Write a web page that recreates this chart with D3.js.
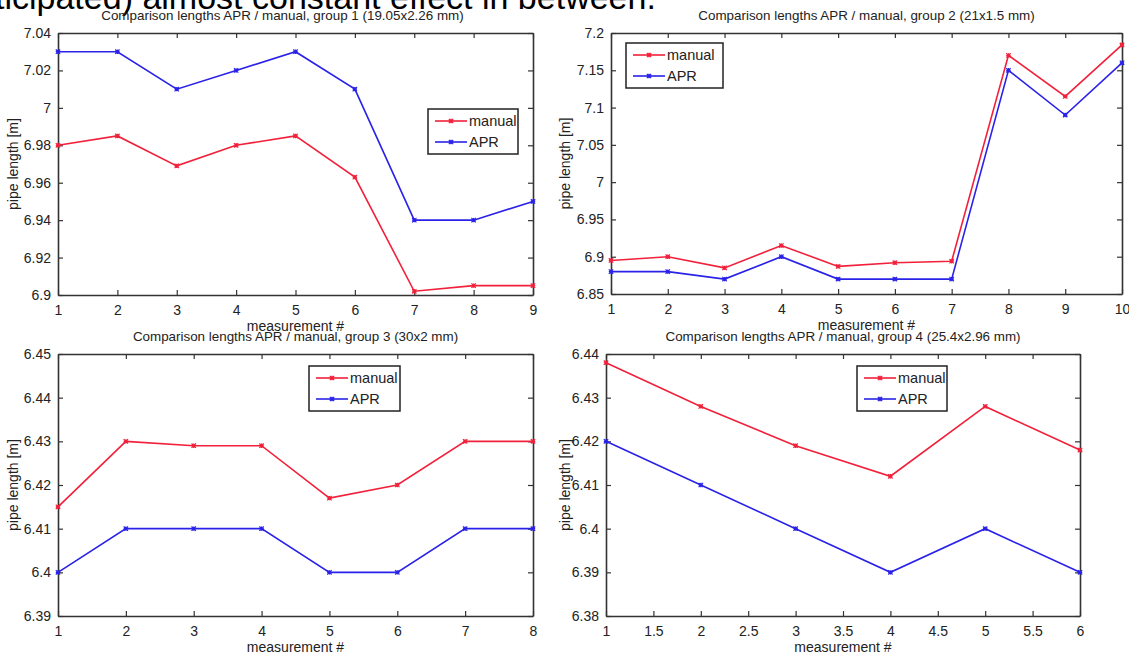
<!DOCTYPE html>
<html>
<head>
<meta charset="UTF-8">
<script src="https://d3js.org/d3.v7.min.js"></script>
<style>
  body { margin: 0; background: #fff; }
  svg text { font-family: "Liberation Sans", Arial, sans-serif; fill: #222; }
</style>
</head>
<body>
<div id="chart"></div>
<script>
// data
var seriesNames = ["manual", "APR"];

var titles = [
  "Comparison lengths APR / manual, group 1 (19.05x2.26 mm)",
  "Comparison lengths APR / manual, group 2 (21x1.5 mm)",
  "Comparison lengths APR / manual, group 3 (30x2 mm)",
  "Comparison lengths APR / manual, group 4 (25.4x2.96 mm)"
];

var manual1 = [6.98, 6.985, 6.969, 6.98, 6.985, 6.963, 6.902, 6.905, 6.905];
var apr1    = [7.03, 7.03, 7.01, 7.02, 7.03, 7.01, 6.94, 6.94, 6.95];

var manual2 = [6.895, 6.9, 6.885, 6.915, 6.887, 6.892, 6.894, 7.17, 7.115, 7.184];
var apr2    = [6.88, 6.88, 6.87, 6.9, 6.87, 6.87, 6.87, 7.15, 7.09, 7.16];

var manual3 = [6.415, 6.43, 6.429, 6.429, 6.417, 6.42, 6.43, 6.43];
var apr3    = [6.40, 6.41, 6.41, 6.41, 6.40, 6.40, 6.41, 6.41];

var manual4 = [6.438, 6.428, 6.419, 6.412, 6.428, 6.418];
var apr4    = [6.42, 6.41, 6.40, 6.39, 6.40, 6.39];

var yTicks1 = [6.9, 6.92, 6.94, 6.96, 6.98, 7, 7.02, 7.04];
var yTicks2 = [6.85, 6.9, 6.95, 7, 7.05, 7.1, 7.15, 7.2];
var yTicks3 = [6.39, 6.4, 6.41, 6.42, 6.43, 6.44, 6.45];
var yTicks4 = [6.38, 6.39, 6.4, 6.41, 6.42, 6.43, 6.44];

var xTicks1 = [1, 2, 3, 4, 5, 6, 7, 8, 9];
var xTicks2 = [1, 2, 3, 4, 5, 6, 7, 8, 9, 10];
var xTicks3 = [1, 2, 3, 4, 5, 6, 7, 8];
var xTicks4 = [1, 1.5, 2, 2.5, 3, 3.5, 4, 4.5, 5, 5.5, 6];

var colors = ["#f2203a", "#2a22e8"];

var W = 1129, H = 659;
var svg = d3.select("#chart").append("svg")
  .attr("width", W).attr("height", H);

// clipped sentence from the surrounding document
svg.append("text")
  .attr("x", -5).attr("y", 9)
  .style("font-size", "34px")
  .style("fill", "#000")
  .text("ticipated) almost constant effect in between.");

var panels = [
  {man: manual1, apr: apr1, yt: yTicks1, xt: xTicks1, x0: 58, x1: 533, y0: 33, y1: 295, tdx: -13,
   leg: {x: 428, y: 109, w: 90, h: 45}},
  {man: manual2, apr: apr2, yt: yTicks2, xt: xTicks2, x0: 611, x1: 1122, y0: 33, y1: 294, tdx: 0,
   leg: {x: 626, y: 43, w: 97, h: 45}},
  {man: manual3, apr: apr3, yt: yTicks3, xt: xTicks3, x0: 58, x1: 533, y0: 354, y1: 616, tdx: 0,
   leg: {x: 309, y: 366, w: 91, h: 45}},
  {man: manual4, apr: apr4, yt: yTicks4, xt: xTicks4, x0: 606, x1: 1080, y0: 354, y1: 616, tdx: 0,
   leg: {x: 857, y: 366, w: 90, h: 45}}
];

// small star marker like matlab '*'
function star(g, cx, cy, col) {
  var s = 2.2;
  g.append("path")
    .attr("d", "M" + (cx - s) + "," + cy + "H" + (cx + s) +
               "M" + cx + "," + (cy - s) + "V" + (cy + s) +
               "M" + (cx - s) + "," + (cy - s) + "L" + (cx + s) + "," + (cy + s) +
               "M" + (cx - s) + "," + (cy + s) + "L" + (cx + s) + "," + (cy - s))
    .attr("stroke", col).attr("stroke-width", 1.2).attr("fill", "none");
}

panels.forEach(function(p, i) {
  var g = svg.append("g");
  var xd = d3.extent(p.xt), yd = d3.extent(p.yt);
  var x = d3.scaleLinear().domain(xd).range([p.x0, p.x1]);
  var y = d3.scaleLinear().domain(yd).range([p.y1, p.y0]);

  var fmt = function(d) { return String(+d.toFixed(3)); };

  // axes, ticks pointing inwards on all four sides
  var bottom = g.append("g").attr("transform", "translate(0," + p.y1 + ")")
    .call(d3.axisBottom(x).tickValues(p.xt).tickSizeInner(-5).tickSizeOuter(0).tickPadding(10).tickFormat(fmt));
  var top = g.append("g").attr("transform", "translate(0," + p.y0 + ")")
    .call(d3.axisTop(x).tickValues(p.xt).tickSizeInner(-5).tickSizeOuter(0).tickFormat(""));
  var left = g.append("g").attr("transform", "translate(" + p.x0 + ",0)")
    .call(d3.axisLeft(y).tickValues(p.yt).tickSizeInner(-5).tickSizeOuter(0).tickPadding(7).tickFormat(fmt));
  var right = g.append("g").attr("transform", "translate(" + p.x1 + ",0)")
    .call(d3.axisRight(y).tickValues(p.yt).tickSizeInner(-5).tickSizeOuter(0).tickFormat(""));

  [bottom, top, left, right].forEach(function(a) {
    a.selectAll("path.domain").attr("stroke", "#333").attr("stroke-width", 1.6);
    a.selectAll(".tick line").attr("stroke", "#333").attr("stroke-width", 1.2);
    a.selectAll(".tick text").style("font-size", "14px")
      .style("font-family", "'Liberation Sans', Arial, sans-serif").attr("fill", "#333");
  });

  // lines
  var line = d3.line()
    .x(function(d, k) { return x(k + 1); })
    .y(function(d) { return y(d); });

  [p.man, p.apr].forEach(function(vals, s) {
    g.append("path").datum(vals)
      .attr("d", line)
      .attr("fill", "none")
      .attr("stroke", colors[s])
      .attr("stroke-width", 1.6);
    vals.forEach(function(v, k) { star(g, x(k + 1), y(v), colors[s]); });
  });

  // title and labels
  var cx = (p.x0 + p.x1) / 2;
  g.append("text")
    .attr("x", cx + p.tdx).attr("y", p.y0 - 13)
    .attr("text-anchor", "middle")
    .style("font-size", "13.4px")
    .text(titles[i]);

  g.append("text")
    .attr("x", cx).attr("y", p.y1 + 36)
    .attr("text-anchor", "middle")
    .style("font-size", "14px")
    .text("measurement #");

  g.append("text")
    .attr("transform", "translate(" + (i % 2 === 0 ? 18 : 570) + "," + ((p.y0 + p.y1) / 2) + ") rotate(-90)")
    .attr("text-anchor", "middle")
    .style("font-size", "14px")
    .text("pipe length [m]");

  // legend
  var L = p.leg;
  var lg = g.append("g");
  lg.append("rect")
    .attr("x", L.x).attr("y", L.y).attr("width", L.w).attr("height", L.h)
    .attr("fill", "#fff").attr("stroke", "#222").attr("stroke-width", 1.5);
  seriesNames.forEach(function(name, s) {
    var ly = L.y + 12 + s * 21;
    lg.append("line")
      .attr("x1", L.x + 7).attr("x2", L.x + 39)
      .attr("y1", ly).attr("y2", ly)
      .attr("stroke", colors[s]).attr("stroke-width", 1.6);
    star(lg, L.x + 23, ly, colors[s]);
    lg.append("text")
      .attr("x", L.x + 41).attr("y", ly + 5)
      .style("font-size", "14.5px")
      .text(name);
  });
});
</script>
</body>
</html>
